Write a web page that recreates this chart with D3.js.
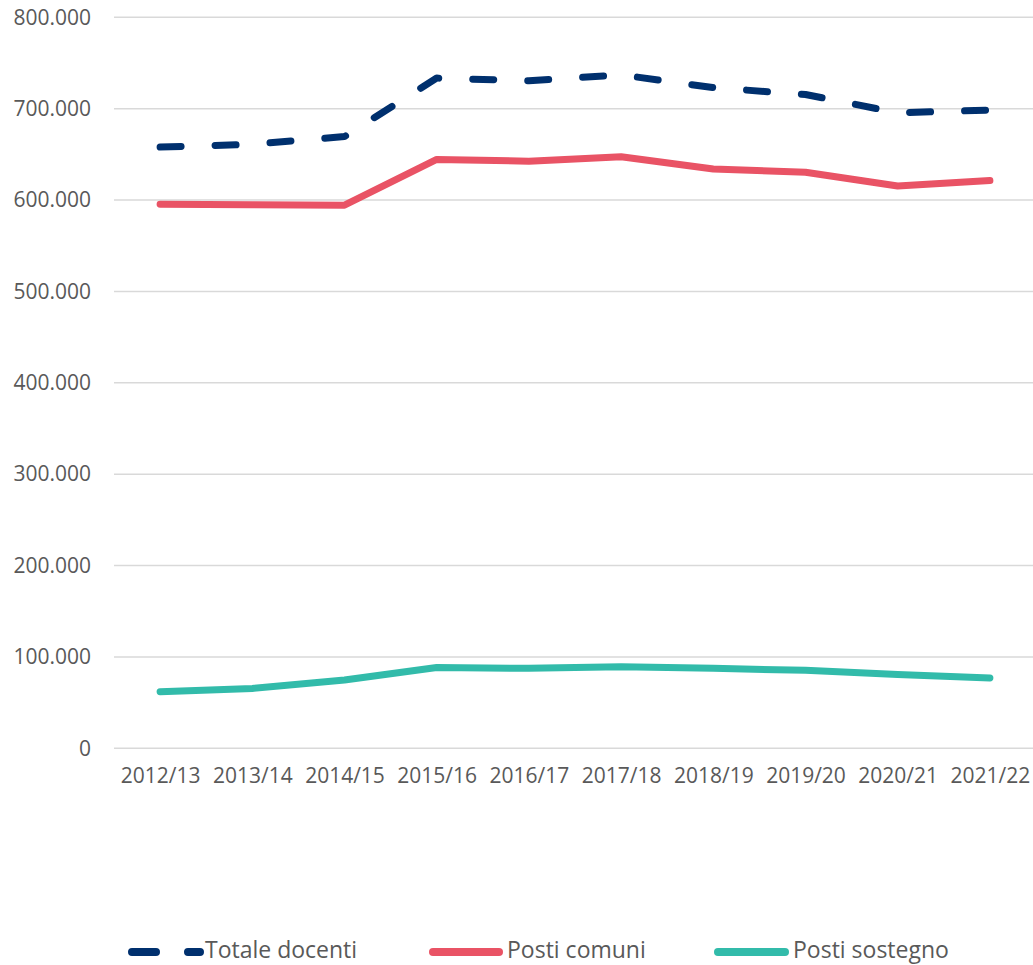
<!DOCTYPE html>
<html>
<head>
<meta charset="utf-8">
<script src="https://cdn.jsdelivr.net/npm/d3@7"></script>
<style>
  html, body { margin: 0; padding: 0; background: #fff; }
  svg { display: block; }
  text { font-family: "Open Sans", sans-serif; fill: #595959; }
</style>
</head>
<body>
<svg id="chart" width="1033" height="965"></svg>
<script>
const categories = ["2012/13","2013/14","2014/15","2015/16","2016/17","2017/18","2018/19","2019/20","2020/21","2021/22"];
const totaleDocenti = [658000, 661000, 669500, 733500, 730500, 737000, 723000, 715500, 695500, 698500];
const postiComuni  = [595500, 594800, 594400, 644500, 642500, 647300, 634000, 630500, 615300, 621300];
const postiSostegno = [62000, 65500, 74800, 88500, 87500, 89300, 87500, 85300, 80800, 77000];
const yTicks = [0, 100000, 200000, 300000, 400000, 500000, 600000, 700000, 800000];
const seriesNames = ["Totale docenti", "Posti comuni", "Posti sostegno"];
const seriesColors = ["#00306E", "#E95365", "#32BBAA"];

const svg = d3.select("#chart");
const x = d3.scalePoint().domain(categories).range([114, 1036]).padding(0.5);
const y = d3.scaleLinear().domain([0, 800000]).range([748.3, 17.3]);

const fmt = v => v === 0 ? "0" : d3.format(",")(v).replace(/,/g, ".");

// gridlines
svg.append("g").selectAll("line").data(yTicks).join("line")
  .attr("x1", 114).attr("x2", 1033)
  .attr("y1", d => y(d)).attr("y2", d => y(d))
  .attr("stroke", "#D9D9D9").attr("stroke-width", 1.5);

// y axis labels
const yAxis = d3.axisLeft(y).tickValues(yTicks).tickFormat(fmt).tickSize(0).tickPadding(0);
const gy = svg.append("g").attr("transform", "translate(91,0)").call(yAxis);
gy.select(".domain").remove();
gy.selectAll("text").style("font-size", "21px").attr("fill", "#595959")
  .style("font-family", "'Open Sans', sans-serif");

// x axis labels
const xAxis = d3.axisBottom(x).tickSize(0).tickPadding(0);
const gx = svg.append("g").attr("transform", "translate(0,768)").call(xAxis);
gx.select(".domain").remove();
gx.selectAll("text").style("font-size", "21px").attr("fill", "#595959")
  .style("font-family", "'Open Sans', sans-serif");

const line = d3.line().x((d, i) => x(categories[i])).y(d => y(d));

const allSeries = [totaleDocenti, postiComuni, postiSostegno];

// draw order: sostegno, comuni, totale
[2, 1, 0].forEach(k => {
  const p = svg.append("path")
    .datum(allSeries[k])
    .attr("d", line)
    .attr("fill", "none")
    .attr("stroke", seriesColors[k])
    .attr("stroke-width", 7)
    .attr("stroke-linecap", "round")
    .attr("stroke-linejoin", "round");
  if (k === 0) p.attr("stroke-dasharray", "21,34");
});

// legend
const legendItems = [
  { x0: 132, x1: 200, tx: 205 },
  { x0: 433, x1: 499, tx: 507 },
  { x0: 718, x1: 785, tx: 793 }
];
const lg = svg.append("g");
legendItems.forEach((it, k) => {
  const l = lg.append("line")
    .attr("x1", it.x0).attr("x2", it.x1).attr("y1", 952).attr("y2", 952)
    .attr("stroke", seriesColors[k]).attr("stroke-width", 8)
    .attr("stroke-linecap", "round");
  if (k === 0) l.attr("stroke-dasharray", "24,32");
  lg.append("text").attr("x", it.tx).attr("y", 958)
    .style("font-size", "23px").text(seriesNames[k]);
});
</script>
</body>
</html>
